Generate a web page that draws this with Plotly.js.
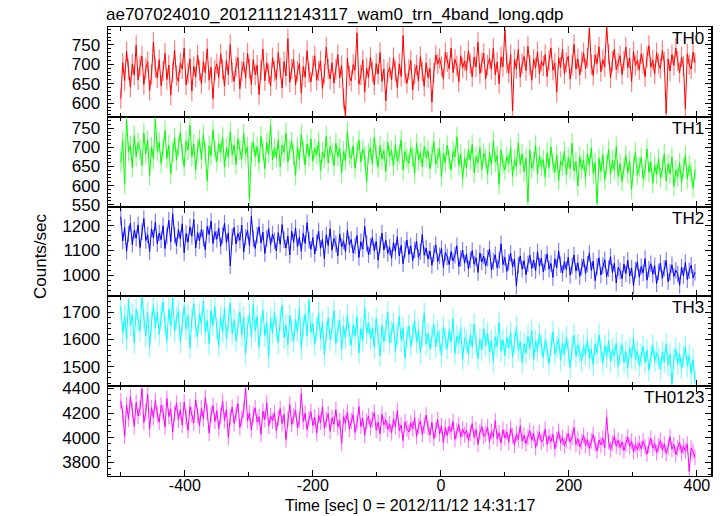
<!DOCTYPE html>
<html>
<head>
<meta charset="utf-8">
<script src="https://cdn.plot.ly/plotly-3.0.1.min.js"></script>
<style>html,body{margin:0;padding:0;background:#fff;}#chart{width:724px;height:516px;}</style>
</head>
<body>
<div id="chart"></div>
<script>
// Time bins: start and bin width (seconds since 2012/11/12 14:31:17)
const timeStart = -500;
const timeBin = 3;

const th0 = [
612,704,658,733,687,641,701,672,749,660,
695,721,648,689,707,633,674,757,690,665,
712,645,683,728,661,698,621,680,736,671,
655,703,688,742,647,677,714,631,695,667,
724,684,650,707,678,740,659,692,612,685,
701,666,727,687,644,710,673,751,680,656,
694,717,637,682,705,664,729,689,648,712,
673,698,622,685,739,658,704,676,644,717,
683,661,730,691,639,707,670,766,654,688,
713,647,682,702,626,694,667,735,678,655,
696,722,659,683,709,638,675,744,689,662,
704,651,687,725,665,697,612,566,716,670,
657,699,685,781,649,672,711,629,690,666,
718,681,647,702,675,730,656,688,606,679,
692,660,717,683,640,701,669,774,677,651,
687,710,634,675,698,657,720,682,643,704,
666,689,603,678,724,701,715,694,662,731,
706,688,742,679,713,697,655,722,691,709,
684,735,702,668,719,693,757,676,704,728,
662,698,715,687,741,673,706,650,719,694,
789,703,677,725,580,712,689,738,667,701,
720,684,746,698,659,713,691,732,675,708,
696,725,668,710,742,685,703,628,717,692,
739,676,705,721,662,698,751,688,714,673,
707,730,689,716,793,699,671,724,702,745,
681,712,694,797,726,665,708,739,686,703,
722,674,709,744,691,716,655,733,697,710,
686,727,702,668,719,748,693,711,675,730,
701,689,736,706,574,714,683,725,697,742,
708,678,719,695,586,727,699,688,731,704
];

const th1 = [
661,718,604,772,689,705,647,731,676,712,
694,652,738,683,719,626,701,670,775,690,
713,658,697,744,672,706,631,688,725,667,
702,739,684,650,716,693,758,675,709,641,
697,720,668,733,686,612,704,679,745,691,
663,710,687,727,648,699,674,741,681,706,
655,722,693,670,736,684,701,565,688,714,
676,702,659,729,691,644,712,683,757,667,
698,673,720,649,706,687,738,662,693,715,
680,627,701,668,734,690,654,709,676,722,
664,697,681,715,640,688,672,729,659,703,
685,652,711,676,697,633,690,665,742,679,
671,704,645,688,719,662,695,678,610,684,
699,657,726,680,648,705,669,691,637,713,
676,692,651,707,664,683,720,641,689,670,
658,698,675,632,711,667,686,649,703,673,
691,644,679,715,656,672,697,623,684,660,
706,668,641,690,675,728,653,682,619,671,
647,694,666,708,633,676,660,699,642,685,
670,629,687,654,717,662,679,603,693,657,
641,676,658,699,624,668,649,712,655,683,
636,671,557,693,645,662,706,631,677,650,
668,622,686,647,701,659,635,680,614,664,
652,690,628,673,644,711,638,662,599,676,
643,667,621,684,652,698,632,660,553,671,
637,681,615,655,694,629,667,641,702,624,
658,611,646,679,633,664,590,651,688,627,
649,673,618,640,696,635,662,606,653,629,
670,621,644,683,612,657,631,675,598,641,
623,660,608,646,679,617,652,635,594,642
];

const th2 = [
1235,1138,1192,1097,1166,1210,1124,1181,1149,1203,
1112,1175,1228,1140,1163,1096,1187,1151,1214,1127,
1170,1143,1199,1108,1158,1221,1135,1247,1162,1119,
1184,1146,1207,1091,1168,1133,1195,1157,1224,1110,
1172,1139,1186,1150,1103,1197,1164,1218,1128,1176,
1145,1189,1117,1160,1209,1132,1171,1038,1155,1193,
1126,1168,1141,1202,1094,1153,1180,1119,1237,1147,
1108,1161,1195,1130,1174,1088,1149,1188,1122,1166,
1139,1098,1172,1125,1204,1143,1110,1158,1082,1177,
1133,1190,1115,1154,1097,1169,1128,1211,1141,1105,
1152,1086,1131,1178,1109,1145,1067,1163,1120,1187,
1101,1148,1127,1079,1166,1114,1139,1095,1182,1123,
1144,1090,1118,1160,1072,1135,1106,1197,1129,1083,
1117,1152,1098,1136,1061,1124,1170,1102,1141,1088,
1113,1069,1132,1097,1155,1078,1121,1047,1106,1142,
1084,1119,1060,1103,1137,1072,1095,1164,1081,1110,
1066,1098,1041,1087,1123,1055,1079,1108,1032,1092,
1074,1043,1096,1058,1081,1119,1036,1068,1102,1049,
1085,1027,1063,1099,1045,1071,1012,1090,1054,1078,
1038,1069,1106,1021,1057,1083,1030,1061,1127,1044,
1072,1016,1053,1089,1034,1066,958,1041,1078,1025,
1059,1003,1047,1081,1028,1062,1019,1095,1037,1070,
1014,1052,1086,1025,1048,992,1067,1031,1098,1043,
1009,1056,1024,1073,1001,1039,1082,1017,1051,996,
1034,1066,1008,1045,1089,1020,1058,979,1036,1071,
1002,1040,1063,995,1027,1076,1011,1049,970,1032,
1018,987,1045,1007,1061,998,1030,959,1022,1054,
993,1036,1010,1068,981,1025,1047,1004,1039,967,
1015,1050,988,1029,1060,975,1012,1043,996,1021,
1006,961,1034,998,1052,983,1019,1041,990,1013
];

const th3 = [
1718,1624,1686,1601,1745,1652,1690,1588,1709,1667,
1633,1754,1679,1612,1698,1574,1663,1726,1641,1700,
1619,1684,1737,1655,1596,1711,1648,1752,1629,1677,
1703,1590,1660,1723,1637,1688,1571,1674,1731,1646,
1611,1695,1658,1740,1626,1669,1584,1706,1651,1719,
1638,1577,1682,1627,1714,1603,1665,1733,1620,1672,
1595,1657,1701,1616,1681,1548,1644,1692,1609,1728,
1631,1685,1572,1650,1707,1614,1662,1538,1676,1621,
1699,1643,1587,1668,1725,1606,1653,1580,1687,1635,
1594,1673,1629,1712,1568,1647,1692,1613,1742,1626,
1658,1582,1637,1696,1601,1664,1545,1628,1679,1599,
1641,1705,1585,1632,1670,1563,1648,1606,1689,1619,
1579,1654,1612,1683,1551,1639,1597,1716,1624,1660,
1604,1642,1570,1677,1615,1540,1652,1593,1635,1700,
1588,1627,1661,1557,1619,1684,1596,1643,1532,1610,
1649,1575,1621,1668,1590,1636,1552,1614,1697,1583,
1622,1565,1609,1655,1573,1630,1598,1541,1645,1601,
1568,1633,1591,1676,1549,1612,1587,1639,1527,1606,
1593,1546,1618,1572,1657,1584,1530,1601,1563,1640,
1577,1623,1554,1596,1519,1610,1574,1662,1558,1599,
1542,1607,1569,1625,1536,1589,1645,1561,1592,1516,
1585,1550,1613,1566,1634,1528,1594,1559,1620,1579,
1535,1597,1562,1511,1582,1628,1547,1573,1603,1524,
1588,1544,1609,1557,1498,1571,1616,1539,1580,1553,
1522,1576,1545,1599,1531,1565,1508,1583,1551,1617,
1560,1513,1578,1537,1596,1520,1564,1541,1586,1502,
1549,1581,1517,1556,1495,1570,1534,1604,1527,1558,
1506,1543,1574,1515,1561,1488,1538,1579,1521,1552,
1533,1491,1555,1519,1584,1507,1547,1438,1529,1566,
1512,1548,1494,1537,1572,1503,1541,1476,1525,1446
];

const th0123 = [
4300,4195,4012,4268,4151,4334,4220,4093,4287,4176,
4238,4398,4125,4210,4352,4069,4245,4163,4301,4190,
4127,4264,4207,4088,4319,4172,4233,4046,4196,4281,
4144,4227,4102,4290,4168,4059,4253,4186,4121,4308,
4179,4097,4241,4155,4326,4208,4037,4189,4262,4133,
4218,4074,4176,4295,4141,4230,4003,4164,4249,4117,
4193,4276,4084,4158,4222,4405,4139,4201,4063,4185,
4242,4128,4171,4029,4216,4147,4284,4094,4178,4136,
4203,4057,4160,4237,4115,4189,3985,4152,4271,4108,
4174,4226,4081,4143,4360,4132,4198,4066,4154,4211,
4099,4167,4035,4182,4124,4251,4078,4146,4197,4052,
4163,4110,4228,4087,4140,3954,4171,4118,4209,4071,
4137,4188,4043,4120,4254,4092,4158,4019,4131,4176,
4084,4149,4206,4061,4127,4033,4192,4105,4145,4068,
4112,4039,4153,4090,4221,4058,4103,3977,4130,4075,
4046,4119,4072,4163,4010,4094,4137,4027,4101,4184,
4080,4023,4126,3992,4064,4148,4031,4097,3961,4085,
4018,4093,4049,4132,3987,4055,4107,4004,4071,4026,
4060,3978,4038,4115,4002,4067,3946,4045,4091,4011,
4033,4086,3969,4052,4009,4138,3993,4040,3957,4064,
3998,4047,3963,4079,4015,3940,4032,3985,4098,3972,
4021,3952,4006,4058,3979,4036,3921,3994,4043,3965,
3988,4070,3947,4012,3970,4029,3909,3983,4051,3958,
4003,3934,3976,4035,3962,3998,4084,3945,3991,3926,
3969,4020,3937,3984,3913,3975,4026,3950,3893,3981,
3942,3997,3918,4167,3968,3904,3955,4011,3931,3979,
3921,3964,3896,3948,4007,3929,3972,3885,3944,3903,
3957,3910,3974,3926,3868,3940,3995,3915,3953,3881,
3935,3978,3899,3951,3873,3922,4008,3907,3946,3862,
3919,3961,3876,3932,3894,3948,3725,3916,3889,3842
];

const bandNames = ["TH0", "TH1", "TH2", "TH3", "TH0123"];
const bandErrors = [26, 26, 33, 40, 64];
const xTickLabels = ["-400", "-200", "0", "200", "400"];
const xTickValues = [-400, -200, 0, 200, 400];
const titleText = "ae707024010_20121112143117_wam0_trn_4band_long.qdp";
const xTitleText = "Time [sec] 0 = 2012/11/12 14:31:17";
const yTitleText = "Counts/sec";

// styling
const bandColors = ["#ff0000", "#00ff00", "#0000ff", "#00ffff", "#ff00ff"];
const bandErrColors = ["rgba(255,0,0,0.5)", "rgba(0,255,0,0.5)", "rgba(0,0,255,0.5)", "rgba(0,255,255,0.5)", "rgba(255,0,255,0.5)"];
const bandRanges = [[565, 796], [545, 780], [916, 1276], [1430, 1757], [3689, 4419]];
const bandDtick = [50, 50, 100, 100, 200];
const bandMinor = [10, 10, 20, 20, 50];
const xRange = [-520, 422];

const series = [th0, th1, th2, th3, th0123];
const times = th0.map((_, i) => timeStart + i * timeBin);

const FONT = "Liberation Sans, Arial, Helvetica, sans-serif";
const FS = 17;
const traces = [];
const layout = {
  width: 724, height: 516,
  margin: {l: 108, r: 13, t: 27, b: 40},
  paper_bgcolor: "#ffffff", plot_bgcolor: "#ffffff",
  showlegend: false,
  font: {family: FONT, size: FS, color: "#000"},
  title: {text: titleText, font: {family: FONT, size: FS, color: "#000"},
          x: 106/724, xanchor: "left", xref: "container",
          y: 1 - 14/516, yanchor: "middle", yref: "container"},
  annotations: []
};

const n = series.length;
for (let k = 0; k < n; k++) {
  const sfx = k === 0 ? "" : String(k + 1);
  traces.push({
    x: times, y: series[k], type: "scatter", mode: "lines",
    line: {color: bandColors[k], width: 1},
    error_y: {type: "constant", value: bandErrors[k], color: bandErrColors[k], thickness: 1.2, width: 0},
    xaxis: "x" + sfx, yaxis: "y" + sfx, hoverinfo: "skip", cliponaxis: true
  });
  const top = 1 - k / n, bot = 1 - (k + 1) / n;
  layout["xaxis" + sfx] = {
    domain: [0, 1], anchor: "y" + sfx, range: xRange,
    tickmode: "array", tickvals: xTickValues, ticktext: xTickLabels,
    ticks: "inside", ticklen: 6, tickwidth: 1, tickcolor: "#000",
    minor: {dtick: 100, tick0: 0, ticks: "inside", ticklen: 4, tickcolor: "#000"},
    showline: true, linecolor: "#000", linewidth: 1, mirror: "ticks",
    showgrid: false, zeroline: false,
    showticklabels: k === n - 1,
    tickfont: {family: FONT, size: 16, color: "#000"}, ticklabelstandoff: -5
  };
  if (k > 0) layout["xaxis" + sfx].matches = "x";
  layout["yaxis" + sfx] = {
    domain: [bot, top], anchor: "x" + sfx, range: bandRanges[k],
    tick0: 0, dtick: bandDtick[k], ticks: "inside", ticklen: 6, tickwidth: 1, tickcolor: "#000",
    minor: {dtick: bandMinor[k], ticks: "inside", ticklen: 3, tickcolor: "#000"},
    showline: true, linecolor: "#000", linewidth: 1.5, mirror: "ticks",
    showgrid: false, zeroline: false,
    tickfont: {family: FONT, size: FS, color: "#000"}, ticklabelstandoff: 3
  };
  layout.annotations.push({
    text: bandNames[k], xref: "paper", yref: "paper", x: 1, y: top,
    xanchor: "right", yanchor: "top", xshift: -5, yshift: 0, showarrow: false,
    font: {family: FONT, size: FS, color: "#000"}
  });
}
layout.annotations.push({
  text: yTitleText, xref: "paper", yref: "paper", x: (40 - 108) / 603, y: (476 - 256) / 449,
  xanchor: "center", yanchor: "middle", textangle: -90, showarrow: false,
  font: {family: FONT, size: FS, color: "#000"}
});
layout.annotations.push({
  text: xTitleText, xref: "paper", yref: "paper", x: (410 - 108) / 603, y: (476 - 505) / 449,
  xanchor: "center", yanchor: "middle", showarrow: false, borderpad: 0,
  font: {family: FONT, size: 16, color: "#000"}
});

Plotly.newPlot("chart", traces, layout, {staticPlot: true, displayModeBar: false});
</script>
</body>
</html>
